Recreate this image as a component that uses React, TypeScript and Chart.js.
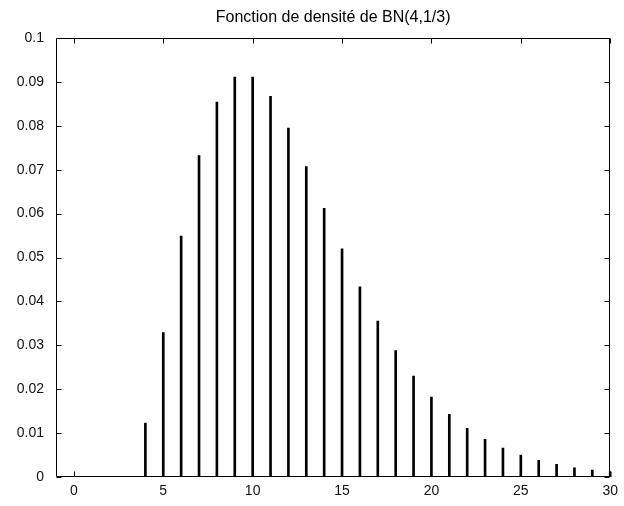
import React, { useEffect, useRef } from "react";
import { Chart, registerables } from "chart.js";

Chart.register(...registerables);

const titleText = "Fonction de densité de BN(4,1/3)";
const kValues = [0, 1, 2, 3, 4, 5, 6, 7, 8, 9, 10, 11, 12, 13, 14, 15, 16, 17, 18, 19, 20, 21, 22, 23, 24, 25, 26, 27, 28, 29, 30];
const densityValues = [
  0, 0, 0, 0, 0.0123, 0.0329, 0.0549, 0.0732, 0.0854, 0.0911, 0.0911, 0.0867, 0.0795,
  0.0707, 0.0612, 0.0520, 0.0433, 0.0355, 0.0288, 0.0230, 0.0182, 0.0143, 0.0111,
  0.0086, 0.0066, 0.0050, 0.0038, 0.0029, 0.0021, 0.0016, 0.0012,
];
const xTickValues = [0, 5, 10, 15, 20, 25, 30];
const yTickValues = [0, 0.01, 0.02, 0.03, 0.04, 0.05, 0.06, 0.07, 0.08, 0.09, 0.1];

const FONT = "'Liberation Sans', Arial, Helvetica, sans-serif";

const boxPlugin = {
  id: "matlabBox",
  afterDraw(chart: any) {
    const { ctx, chartArea } = chart;
    const { left, right, top, bottom } = chartArea;
    const xs = chart.scales.x;
    const ys = chart.scales.y;
    const tl = 5;
    ctx.save();
    ctx.strokeStyle = "#000";
    ctx.lineWidth = 1;
    ctx.beginPath();
    const L = Math.round(left) + 0.5;
    const R = Math.round(right) - 0.5;
    const T = Math.round(top) + 0.5;
    const B = Math.round(bottom) - 0.5;
    ctx.rect(L, T, R - L, B - T);
    xTickValues.forEach((v) => {
      const px = Math.round(xs.getPixelForValue(v)) + 0.5;
      ctx.moveTo(px, B);
      ctx.lineTo(px, B - tl);
      ctx.moveTo(px, T);
      ctx.lineTo(px, T + tl);
    });
    yTickValues.forEach((v) => {
      const py = Math.round(ys.getPixelForValue(v)) + 0.5;
      ctx.moveTo(L, py);
      ctx.lineTo(L + tl, py);
      ctx.moveTo(R, py);
      ctx.lineTo(R - tl, py);
    });
    ctx.stroke();
    ctx.fillStyle = "#000";
    ctx.font = `16px ${FONT}`;
    ctx.textAlign = "center";
    ctx.textBaseline = "middle";
    ctx.fillText(titleText, (left + right) / 2, 18);
    ctx.restore();
  },
};

export default function App() {
  const canvasRef = useRef<HTMLCanvasElement | null>(null);

  useEffect(() => {
    if (!canvasRef.current) return;
    const chart = new Chart(canvasRef.current, {
      type: "bar",
      data: {
        datasets: [
          {
            data: kValues.map((k, i) => ({ x: k, y: densityValues[i] })),
            backgroundColor: "#000",
            borderWidth: 0,
            barThickness: 2,
            clip: { left: 0, top: 0, right: 2, bottom: 0 },
          },
        ],
      },
      options: {
        responsive: false,
        animation: false,
        devicePixelRatio: 1,
        layout: { padding: { top: 38, right: 12, left: 0, bottom: 0 } },
        plugins: {
          legend: { display: false },
          title: { display: false },
          tooltip: { enabled: false },
        },
        scales: {
          x: {
            type: "linear",
            offset: false,
            min: -1,
            max: 30,
            grid: { display: false, drawTicks: false, offset: false },
            border: { display: false },
            afterBuildTicks: (scale: any) => {
              scale.ticks = xTickValues.map((v) => ({ value: v }));
            },
            afterFit: (scale: any) => {
              scale.height = 29;
            },
            ticks: {
              autoSkip: false,
              maxRotation: 0,
              padding: 6,
              color: "#111",
              font: { family: FONT, size: 14 },
              callback: (v: any) => String(v),
            },
          },
          y: {
            type: "linear",
            min: 0,
            max: 0.1,
            grid: { display: false, drawTicks: false },
            border: { display: false },
            afterBuildTicks: (scale: any) => {
              scale.ticks = yTickValues.map((v) => ({ value: v }));
            },
            afterFit: (scale: any) => {
              scale.width = 56;
            },
            ticks: {
              autoSkip: false,
              padding: 12,
              color: "#111",
              font: { family: FONT, size: 14 },
              callback: (v: any) => String(Number(Number(v).toFixed(2))),
            },
          },
        },
      },
      plugins: [boxPlugin],
    });
    return () => chart.destroy();
  }, []);

  return (
    <div style={{ position: "fixed", left: 0, top: 0, width: 624, height: 506, background: "#fff" }}>
      <canvas ref={canvasRef} width={624} height={506} style={{ width: 624, height: 506, display: "block" }} />
    </div>
  );
}
